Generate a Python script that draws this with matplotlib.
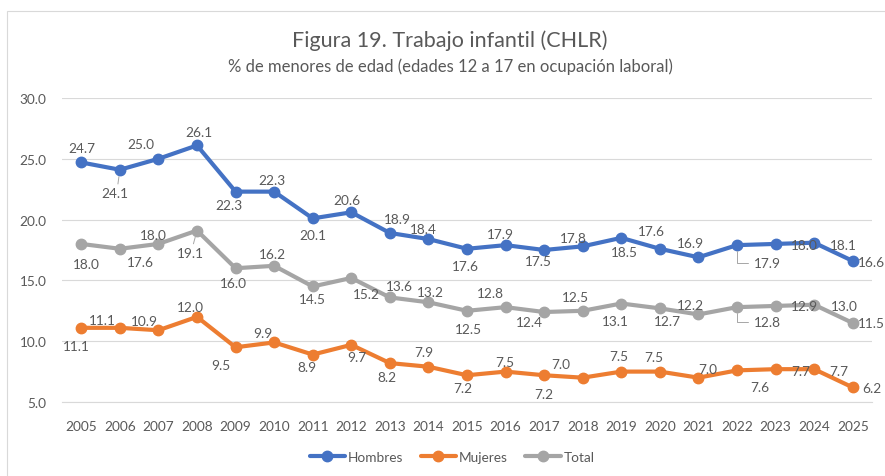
import matplotlib.pyplot as plt
from matplotlib.patches import Rectangle

plt.rcParams['font.family'] = ['Lato', 'DejaVu Sans']

years = list(range(2005, 2026))
hombres = [24.7, 24.1, 25.0, 26.1, 22.3, 22.3, 20.1, 20.6, 18.9, 18.4, 17.6,
           17.9, 17.5, 17.8, 18.5, 17.6, 16.9, 17.9, 18.0, 18.1, 16.6]
mujeres = [11.1, 11.1, 10.9, 12.0, 9.5, 9.9, 8.9, 9.7, 8.2, 7.9, 7.2,
           7.5, 7.2, 7.0, 7.5, 7.5, 7.0, 7.6, 7.7, 7.7, 6.2]
total = [18.0, 17.6, 18.0, 19.1, 16.0, 16.2, 14.5, 15.2, 13.6, 13.2, 12.5,
         12.8, 12.4, 12.5, 13.1, 12.7, 12.2, 12.8, 12.9, 13.0, 11.5]

# label offsets in pixels (dx, dy with y pointing down), as placed in the original
off_h = [(1, -14), (-5, 23), (-18, -15), (2, -13), (-7, 13), (-2, -12), (0, 17),
         (-4, -12), (8, -14), (-5, -10), (-2, 17), (-5, -11), (-6, 11), (-9, -8),
         (3, 14), (-8, -18), (-8, -14), (30, 18), (29, 1), (29, 2), (19, 1)]
off_t = [(5, 20), (21, 13), (-5, -9), (-7, 22), (-2, 15), (-2, -12), (0, 13),
         (15, 16), (10, -11), (2, -10), (1, 18), (-15, -14), (-15, 10), (-7, -14),
         (-6, 17), (8, 13), (-8, -9), (30, 15), (29, 0), (30, 1), (19, 0)]
off_m = [(-5, 18), (-17, -8), (-14, -9), (-7, -10), (-15, 18), (-11, -9), (-6, 12),
         (6, 12), (-3, 14), (-5, -15), (-4, 13), (-1, -10), (0, 19), (-22, -14),
         (-3, -16), (-6, -15), (9, -9), (23, 17), (25, 2), (25, 2), (19, 1)]

series = [('Hombres', hombres, '#4472C4', off_h),
          ('Mujeres', mujeres, '#ED7D31', off_m),
          ('Total', total, '#A5A5A5', off_t)]

txt = '#595959'
fig = plt.figure(figsize=(8.85, 4.77), dpi=100)
fig.patches.append(Rectangle((7/885, -0.1), 1.0, 1 - 12/477 + 0.1, transform=fig.transFigure,
                             fill=False, edgecolor='#D9D9D9', lw=0.8))

ax = fig.add_axes([62/885, 74/477, 810/885, 304/477])
for name, vals, col, offs in series:
    ax.plot(years, vals, color=col, lw=3, marker='o', ms=7.5, label=name,
            solid_capstyle='round', zorder=3)
    for i, (x, y) in enumerate(zip(years, vals)):
        dx, dy = offs[i]
        kw = {}
        if (name == 'Hombres' and x == 2006) or (name == 'Total' and x == 2008):
            kw['arrowprops'] = dict(arrowstyle='-', color='#A6A6A6', lw=0.7,
                                    shrinkA=0, shrinkB=5, relpos=(0.6, 1.0))
        if name in ('Hombres', 'Total') and x == 2022:
            kw['arrowprops'] = dict(arrowstyle='-', color='#A6A6A6', lw=0.7,
                                    shrinkA=2, shrinkB=4, relpos=(0.0, 0.5),
                                    connectionstyle='angle,angleA=0,angleB=90,rad=0')
        ax.annotate(f'{y:.1f}', (x, y), xytext=(dx, -dy), textcoords='offset pixels',
                    ha='center', va='center', fontsize=9.8, color=txt, zorder=4, **kw)

ax.set_xlim(2004.5, 2025.5)
ax.set_ylim(5, 30)
ax.set_xticks(years)
ax.set_yticks([5, 10, 15, 20, 25, 30])
ax.set_yticklabels([f'{v:.1f}' for v in [5, 10, 15, 20, 25, 30]])
ax.grid(axis='y', color='#D9D9D9', lw=0.8)
ax.set_axisbelow(True)
for s in ['top', 'right', 'left']:
    ax.spines[s].set_visible(False)
ax.spines['bottom'].set_color('#D9D9D9')
ax.tick_params(axis='both', length=0, labelsize=9.8, labelcolor=txt)
ax.tick_params(axis='x', pad=13)
ax.tick_params(axis='y', pad=11)

fig.text(450/885, 1 - 41/477, 'Figura 19. Trabajo infantil (CHLR)', ha='center', va='center',
         fontsize=15.5, color=txt)
fig.text(450/885, 1 - 67/477, '% de menores de edad (edades 12 a 17 en ocupación laboral)',
         ha='center', va='center', fontsize=12, color=txt)

fig.legend(loc='center', bbox_to_anchor=(452/885, 1 - 458/477), ncol=3, frameon=False,
           fontsize=9.8, labelcolor=txt, handlelength=2.6, handletextpad=0.2,
           columnspacing=1.3)

fig.savefig('out.png', dpi=100)
